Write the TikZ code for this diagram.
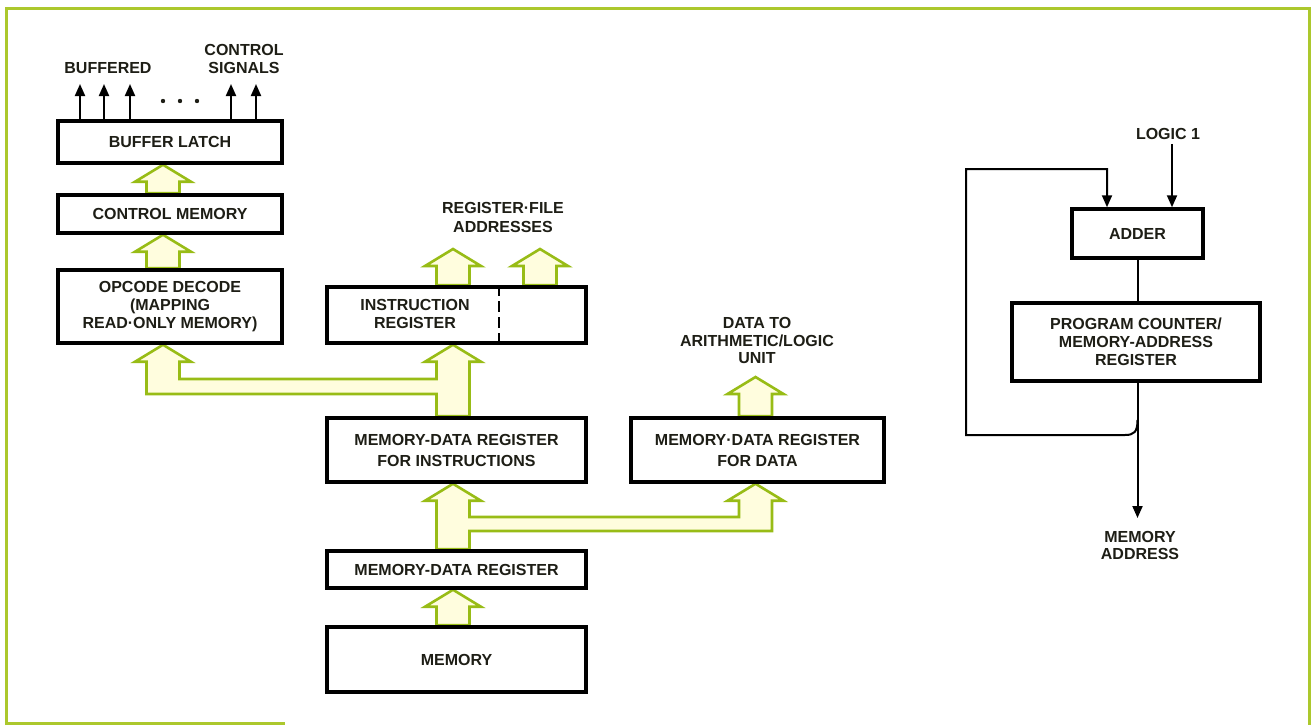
\documentclass[tikz,border=0pt]{standalone}
\usepackage{fontspec}
\setmainfont{Liberation Sans}
\usetikzlibrary{calc,arrows.meta}
\pgfdeclarelayer{bg}
\pgfdeclarelayer{paper}
\pgfsetlayers{paper,bg,main}
\definecolor{framegreen}{RGB}{172,200,45}
\definecolor{busline}{RGB}{152,188,22}
\definecolor{busfill}{RGB}{255,253,222}
\definecolor{ink}{RGB}{30,30,22}
\newcommand\fatup[2]{%
  \draw[bus] ($(#2)+(-16.5,0)$) -- ($(#1)+(-16.5,17)$) -- ($(#1)+(-28,17)$) -- (#1)
    -- ($(#1)+(28,17)$) -- ($(#1)+(16.5,17)$) -- ($(#2)+(16.5,0)$) -- cycle;}
\begin{document}
\begin{tikzpicture}[x=1pt,y=-1pt,
  lbl/.style={font=\fontsize{16}{19}\selectfont\bfseries, text=ink, align=center, inner sep=0pt},
  blk/.style={draw=black, line width=3.5pt, fill=white, inner sep=0pt,
              font=\fontsize{16}{19}\selectfont\bfseries, text=ink, align=center},
  bus/.style={draw=busline, fill=busfill, line width=2.6pt, line join=miter},
  sig/.style={draw=black, line width=2pt, line join=miter, -{Triangle[length=12pt,width=10pt]}},
  wire/.style={draw=black, line width=2pt}]
\useasboundingbox (0,0) rectangle (1313,725);
\begin{pgfonlayer}{paper}
\fill[white] (0,0) rectangle (1313,725);
\end{pgfonlayer}

% frame
\draw[framegreen, line width=3pt] (6,725) -- (6,9) -- (1309,9) -- (1309,725);
\draw[framegreen, line width=3pt] (6,723) -- (285,723);

% column coordinates
\coordinate (cL) at (163,0);
\coordinate (cI) at (453,0);
\coordinate (cR) at (540,0);
\coordinate (cD) at (755.5,0);
\coordinate (dv) at (499,0);

% left stack
\node[blk, minimum width=224pt, minimum height=42pt] (bl) at (170,142) {BUFFER LATCH};
\node[blk, minimum width=224pt, minimum height=38pt] (cm) at (170,214) {CONTROL MEMORY};
\node[blk, minimum width=224pt, minimum height=73pt, font=\fontsize{16}{18}\selectfont\bfseries] (od) at (170,306.5)
  {OPCODE DECODE\\(MAPPING\\READ·ONLY MEMORY)};

% instruction register
\node[blk, minimum width=259pt, minimum height=56pt] (ir) at (456.5,315) {};
\draw[black, line width=2.5pt, dash pattern=on 11pt off 5pt] (dv |- ir.north) -- (dv |- ir.south);
\node[lbl, font=\fontsize{16}{18}\selectfont\bfseries] (irt) at (415,314) {INSTRUCTION\\REGISTER};

% memory data registers
\node[blk, minimum width=259pt, minimum height=64pt, font=\fontsize{16}{21}\selectfont\bfseries] (mdri) at (456.5,450)
  {MEMORY-DATA REGISTER\\FOR INSTRUCTIONS};
\node[blk, minimum width=253pt, minimum height=64pt, font=\fontsize{16}{21}\selectfont\bfseries] (mdrd) at (757.5,450)
  {MEMORY·DATA REGISTER\\FOR DATA};
\node[blk, minimum width=259pt, minimum height=37pt] (mdr) at (456.5,569.5) {MEMORY-DATA REGISTER};
\node[blk, minimum width=259pt, minimum height=65pt] (mem) at (456.5,659.5) {MEMORY};

% labels
\node[lbl] (buf) at (108,68) {BUFFERED};
\node[lbl, font=\fontsize{16}{18}\selectfont\bfseries] (cs) at (244,59) {CONTROL\\SIGNALS};
\node[lbl, font=\fontsize{16}{19}\selectfont\bfseries] (rf) at (503,217.5) {REGISTER·FILE\\ADDRESSES};
\node[lbl, font=\fontsize{16}{17.5}\selectfont\bfseries] (alut) at (757,340.5) {DATA TO\\ARITHMETIC/LOGIC\\UNIT};

% control signal arrows
\coordinate (s1) at (80,84);
\coordinate (s2) at (104,84);
\coordinate (s3) at (130,84);
\coordinate (s4) at (231,84);
\coordinate (s5) at (256,84);
\foreach \s in {s1,s2,s3,s4,s5} \draw[sig] (\s |- bl.north) -- (\s);
\foreach \x in {163,180,197} \fill[ink] (\x,101) circle (2.2pt);

% free ends of fat arrows
\coordinate (rf1) at (453,249);
\coordinate (rf2) at (540,249);
\coordinate (alu) at (755.5,377);

\begin{pgfonlayer}{bg}
\fatup{cL |- bl.south}{cL |- cm.north}
\fatup{cL |- cm.south}{cL |- od.north}
\fatup{rf1}{cI |- ir.north}
\fatup{rf2}{cR |- ir.north}
\fatup{alu}{cD |- mdrd.north}
\fatup{cI |- mdr.south}{cI |- mem.north}
% bus from MDR for instructions to opcode decode and instruction register
\draw[bus] ($(cI |- mdri.north)+(-16.5,0)$) -- (436.5,394) -- (146.5,394)
  -- ($(cL |- od.south)+(-16.5,17)$) -- ($(cL |- od.south)+(-28,17)$) -- (cL |- od.south)
  -- ($(cL |- od.south)+(28,17)$) -- ($(cL |- od.south)+(16.5,17)$) -- (179.5,379) -- (436.5,379)
  -- ($(cI |- ir.south)+(-16.5,17)$) -- ($(cI |- ir.south)+(-28,17)$) -- (cI |- ir.south)
  -- ($(cI |- ir.south)+(28,17)$) -- ($(cI |- ir.south)+(16.5,17)$) -- ($(cI |- mdri.north)+(16.5,0)$) -- cycle;
% bus from MDR to the two MDRs
\draw[bus] ($(cI |- mdr.north)+(-16.5,0)$) -- ($(cI |- mdri.south)+(-16.5,17)$)
  -- ($(cI |- mdri.south)+(-28,17)$) -- (cI |- mdri.south) -- ($(cI |- mdri.south)+(28,17)$)
  -- ($(cI |- mdri.south)+(16.5,17)$) -- (469.5,517) -- (739,517)
  -- ($(cD |- mdrd.south)+(-16.5,17)$) -- ($(cD |- mdrd.south)+(-28,17)$) -- (cD |- mdrd.south)
  -- ($(cD |- mdrd.south)+(28,17)$) -- ($(cD |- mdrd.south)+(16.5,17)$) -- (772,531) -- (469.5,531)
  -- ($(cI |- mdr.north)+(16.5,0)$) -- cycle;
\end{pgfonlayer}

% right section
\node[blk, minimum width=131pt, minimum height=49pt] (adder) at (1137.5,233.5) {ADDER};
\node[blk, minimum width=248pt, minimum height=78pt, font=\fontsize{16}{18}\selectfont\bfseries] (pc) at (1136,342)
  {PROGRAM COUNTER/\\MEMORY-ADDRESS\\REGISTER};
\node[lbl] (l1) at (1168,134) {LOGIC 1};
\node[lbl, font=\fontsize{16}{17}\selectfont\bfseries] (mat) at (1140,545) {MEMORY\\ADDRESS};
\coordinate (cx) at (1137.5,0);
\coordinate (cl) at (1172,0);
\coordinate (ma) at (1137.5,518);
\coordinate (f0) at (1137.5,420);
\coordinate (f1) at (966,435);
\coordinate (f2) at (966,169);
\coordinate (f3) at (1107,169);
\draw[wire] (adder.south) -- (cx |- pc.north);
\draw[sig] (cx |- pc.south) -- (ma);
\draw[sig] ($(cl |- l1.south)+(0,4)$) -- (cl |- adder.north);
\draw[sig] (f0) .. controls (1137.5,432) and (1134,435) .. (1125,435) -- (f1) -- (f2) -- (f3) -- (f3 |- adder.north);
\end{tikzpicture}
\end{document}
